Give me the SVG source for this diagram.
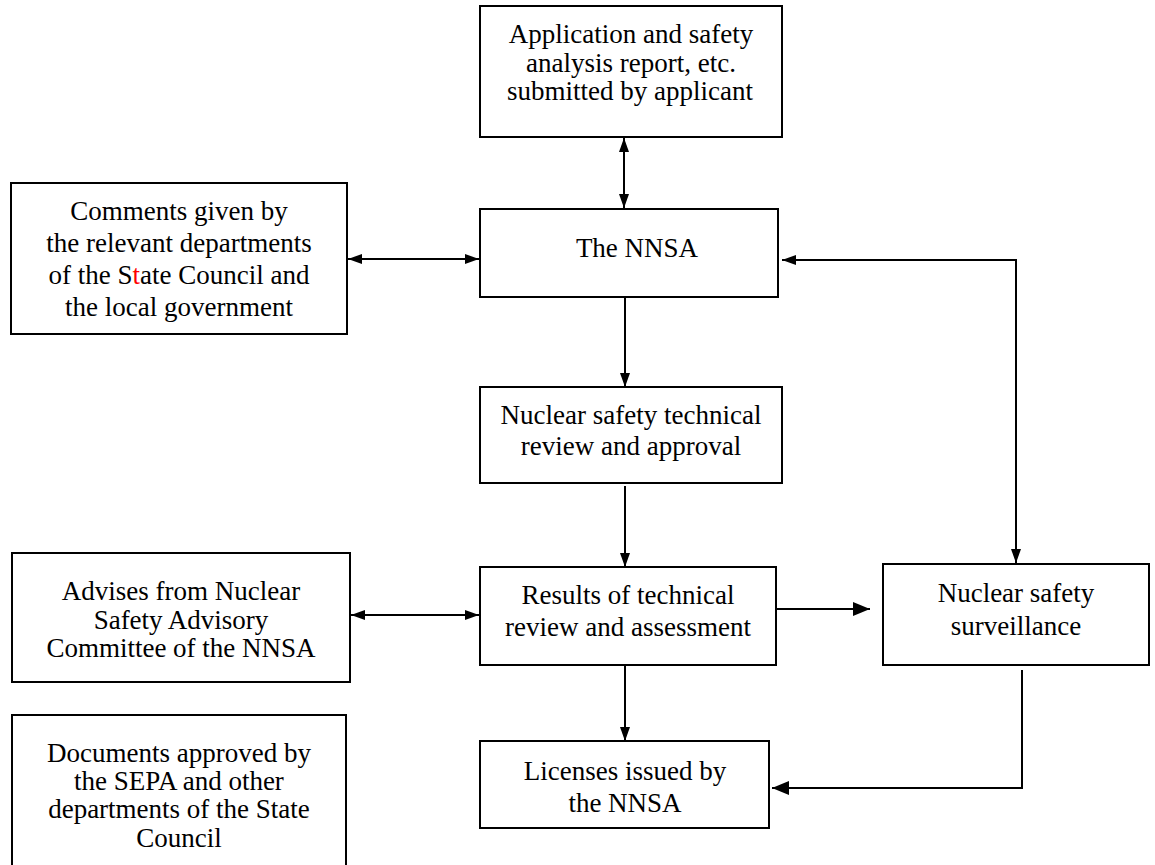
<svg xmlns="http://www.w3.org/2000/svg" width="1155" height="865" viewBox="0 0 1155 865">
<style>
.box{fill:#fff;stroke:#000;stroke-width:2}
.t{font-family:'Liberation Serif','DejaVu Serif',serif;font-size:27px;fill:#000;text-anchor:middle}
.c{fill:none;stroke:#000;stroke-width:2}
</style>
<defs>
<marker id="ah" viewBox="0 0 14 10" refX="14" refY="5" markerWidth="14" markerHeight="10" markerUnits="userSpaceOnUse" orient="auto-start-reverse">
<path d="M0,0 L14,5 L0,10 Z" fill="#000"/>
</marker>
<marker id="ahb" viewBox="0 0 17 14" refX="17" refY="7" markerWidth="17" markerHeight="14" markerUnits="userSpaceOnUse" orient="auto-start-reverse">
<path d="M0,0 L17,7 L0,14 Z" fill="#000"/>
</marker>
</defs>
<rect width="1155" height="865" fill="#fff"/>
<g id="connectors">
<line class="c" x1="624" y1="138" x2="624" y2="208" marker-start="url(#ah)" marker-end="url(#ah)"/>
<line class="c" x1="348" y1="259" x2="479" y2="259" marker-start="url(#ah)" marker-end="url(#ah)"/>
<line class="c" x1="625" y1="297" x2="625" y2="387" marker-end="url(#ah)"/>
<line class="c" x1="625" y1="486" x2="625" y2="567" marker-end="url(#ah)"/>
<line class="c" x1="351" y1="615" x2="479" y2="615" marker-start="url(#ah)" marker-end="url(#ah)"/>
<line class="c" x1="776" y1="609" x2="870" y2="609" marker-end="url(#ahb)"/>
<polyline class="c" points="782,260 1016,260 1016,563" marker-start="url(#ah)" marker-end="url(#ah)"/>
<line class="c" x1="625" y1="666" x2="625" y2="741" marker-end="url(#ah)"/>
<polyline class="c" points="1022,670 1022,788 772,788" marker-end="url(#ahb)"/>
</g>
<g id="application">
<rect class="box" x="480" y="6" width="302" height="131"/>
<text class="t" x="631" y="43">Application and safety</text>
<text class="t" x="631" y="72">analysis report, etc.</text>
<text class="t" x="630" y="100">submitted by applicant</text>
</g>
<g id="nnsa">
<rect class="box" x="480" y="209" width="298" height="88"/>
<text class="t" x="637" y="257">The NNSA</text>
</g>
<g id="comments">
<rect class="box" x="11" y="183" width="336" height="151"/>
<text class="t" x="179" y="220">Comments given by</text>
<text class="t" x="179" y="252">the relevant departments</text>
<text class="t" x="179" y="284">of the S<tspan fill="#ff0000">t</tspan>ate Council and</text>
<text class="t" x="179" y="316">the local government</text>
</g>
<g id="tech-review">
<rect class="box" x="480" y="387" width="302" height="96"/>
<text class="t" x="631" y="424">Nuclear safety technical</text>
<text class="t" x="631" y="455">review and approval</text>
</g>
<g id="advises">
<rect class="box" x="12" y="553" width="338" height="129"/>
<text class="t" x="181" y="600">Advises from Nuclear</text>
<text class="t" x="181" y="629">Safety Advisory</text>
<text class="t" x="181" y="657">Committee of the NNSA</text>
</g>
<g id="results">
<rect class="box" x="480" y="567" width="296" height="98"/>
<text class="t" x="628" y="604">Results of technical</text>
<text class="t" x="628" y="636">review and assessment</text>
</g>
<g id="surveillance">
<rect class="box" x="883" y="564" width="266" height="101"/>
<text class="t" x="1016" y="602">Nuclear safety</text>
<text class="t" x="1016" y="635">surveillance</text>
</g>
<g id="licenses">
<rect class="box" x="480" y="741" width="289" height="87"/>
<text class="t" x="625" y="780">Licenses issued by</text>
<text class="t" x="625" y="812">the NNSA</text>
</g>
<g id="documents">
<rect class="box" x="12" y="715" width="334" height="160"/>
<text class="t" x="179" y="762">Documents approved by</text>
<text class="t" x="179" y="790">the SEPA and other</text>
<text class="t" x="179" y="818">departments of the State</text>
<text class="t" x="179" y="847">Council</text>
</g>
</svg>
